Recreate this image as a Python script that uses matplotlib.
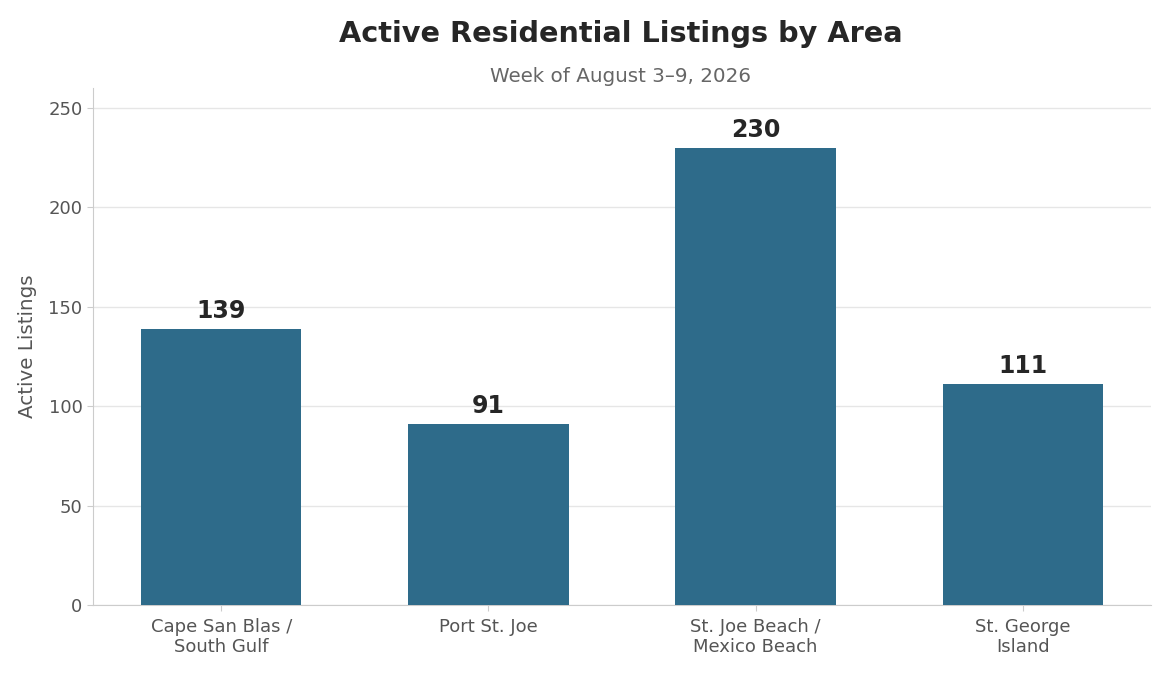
import matplotlib
matplotlib.use("Agg")
import matplotlib.pyplot as plt

categories = ["Cape San Blas /\nSouth Gulf", "Port St. Joe", "St. Joe Beach /\nMexico Beach", "St. George\nIsland"]
values = [139, 91, 230, 111]
yticks = [0, 50, 100, 150, 200, 250]

fig = plt.figure(figsize=(11.7, 6.76), dpi=100)
ax = fig.add_axes([93/1170, 1-605/676, (1151-93)/1170, (605-88)/676])

x = list(range(len(categories)))
bars = ax.bar(x, values, width=0.6, color="#2E6B8A", zorder=3)
for xi, v in zip(x, values):
    ax.text(xi, v + 3, str(v), ha="center", va="bottom", fontsize=17, fontweight="bold", color="#262626")

ax.set_xlim(-0.48, 3.48)
ax.set_ylim(0, 260)
ax.set_yticks(yticks)
ax.set_xticks(x)
ax.set_xticklabels(categories)
ax.tick_params(axis="both", labelsize=13, colors="#555555", length=4)
ax.tick_params(axis="both", color="#cccccc")
ax.tick_params(axis="x", pad=5)
ax.grid(axis="y", color="#e6e6e6", linewidth=1, zorder=0)
ax.set_axisbelow(True)
for s in ["top", "right"]:
    ax.spines[s].set_visible(False)
for s in ["left", "bottom"]:
    ax.spines[s].set_color("#cccccc")
ax.set_ylabel("Active Listings", fontsize=14.3, color="#555555", labelpad=8)

fig.text(621/1170, 1-34/676, "Active Residential Listings by Area", ha="center", va="center",
         fontsize=20.7, fontweight="bold", color="#262626")
fig.text(621/1170, 1-76/676, "Week of August 3\u20139, 2026", ha="center", va="center",
         fontsize=14.3, color="#666666")

fig.savefig("out.png", dpi=100)
